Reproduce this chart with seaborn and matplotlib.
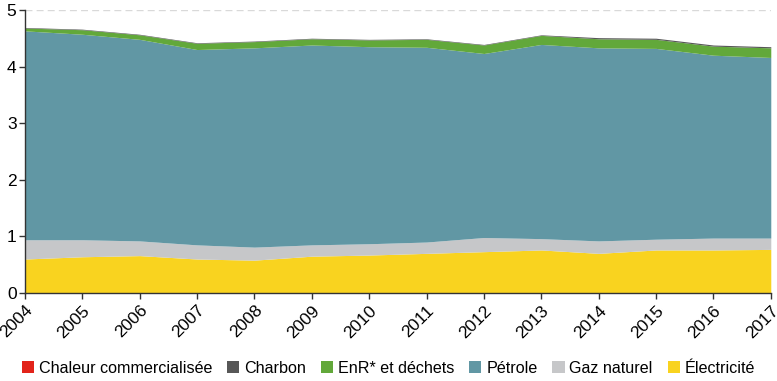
import matplotlib
matplotlib.use('Agg')
import matplotlib.pyplot as plt
import seaborn as sns
import numpy as np
from matplotlib.patches import Patch

years = list(range(2004, 2018))

# values (stack layers, bottom to top)
electricite = [0.60, 0.64, 0.66, 0.60, 0.58, 0.65, 0.67, 0.70, 0.73, 0.76, 0.70, 0.76, 0.76, 0.77]
gaz_naturel = [0.34, 0.30, 0.26, 0.25, 0.23, 0.20, 0.20, 0.20, 0.25, 0.20, 0.22, 0.19, 0.21, 0.20]
petrole = [3.69, 3.63, 3.56, 3.45, 3.52, 3.53, 3.48, 3.44, 3.25, 3.43, 3.41, 3.37, 3.23, 3.19]
enr_dechets = [0.05, 0.08, 0.08, 0.11, 0.11, 0.11, 0.12, 0.14, 0.15, 0.16, 0.16, 0.16, 0.16, 0.17]
charbon = [0.01, 0.01, 0.01, 0.01, 0.01, 0.01, 0.01, 0.01, 0.01, 0.01, 0.02, 0.02, 0.02, 0.02]
chaleur = [0.0] * 14

labels = ['Chaleur commercialisée', 'Charbon', 'EnR* et déchets', 'Pétrole', 'Gaz naturel', 'Électricité']
colors = {'Chaleur commercialisée': '#e2231a', 'Charbon': '#575757', 'EnR* et déchets': '#62a83a',
          'Pétrole': '#6197a4', 'Gaz naturel': '#c6c7c9', 'Électricité': '#f9d31f'}

sns.set_style('white')
plt.rcParams['font.family'] = ['Liberation Sans', 'DejaVu Sans']
plt.rcParams['text.color'] = 'black'
plt.rcParams['xtick.color'] = '#333333'
plt.rcParams['ytick.color'] = '#333333'
plt.rcParams['xtick.labelcolor'] = 'black'
plt.rcParams['ytick.labelcolor'] = 'black'

fig = plt.figure(figsize=(7.77, 3.81), dpi=100)
ax = fig.add_axes([0.032, 0.231, 0.96, 0.743])

ax.yaxis.grid(True, color='#d9d9d9', linestyle=(0, (5, 3)), linewidth=1)
ax.set_axisbelow(True)

layers = [electricite, gaz_naturel, petrole, enr_dechets, charbon, chaleur]
layer_names = ['Électricité', 'Gaz naturel', 'Pétrole', 'EnR* et déchets', 'Charbon', 'Chaleur commercialisée']
ax.stackplot(years, *layers, colors=[colors[n] for n in layer_names], linewidth=0, zorder=2)

ax.set_xlim(2004, 2017)
ax.set_ylim(0, 5)
ax.set_xticks(years)
ax.set_xticklabels([str(y) for y in years], rotation=45, ha='right', rotation_mode='anchor', fontsize=12.5)
ax.set_yticks(range(0, 6))
ax.tick_params(axis='y', labelsize=12.5, length=4, width=1, pad=2, left=True)
ax.tick_params(axis='x', length=4, width=1, pad=3, bottom=True)

for s in ['top', 'right']:
    ax.spines[s].set_visible(False)
for s in ['left', 'bottom']:
    ax.spines[s].set_color('#333333')
    ax.spines[s].set_linewidth(1)
    ax.spines[s].set_zorder(5)

handles = [Patch(facecolor=colors[l], edgecolor='none', label=l) for l in labels]
fig.legend(handles=handles, loc='center', bbox_to_anchor=(0.5, 0.034), ncol=6, frameon=False,
           fontsize=11.6, handlelength=0.75, handleheight=0.75, handletextpad=0.3, columnspacing=0.93)

fig.savefig('out.png', dpi=100)
